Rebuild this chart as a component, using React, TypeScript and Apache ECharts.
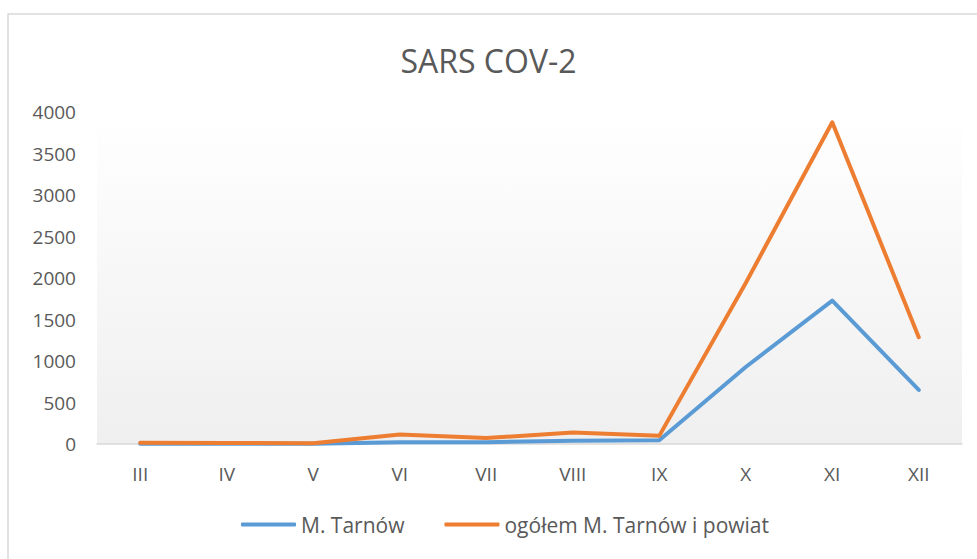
import React, { useEffect, useRef } from "react";
import * as echarts from "echarts";

const categories = ["III", "IV", "V", "VI", "VII", "VIII", "IX", "X", "XI", "XII"];
const tarnow = [4, 3, 2, 20, 22, 40, 45, 928, 1727, 651];
const totalWithPowiat = [15, 12, 10, 115, 72, 138, 98, 1940, 3876, 1286];
const yTicks = [0, 500, 1000, 1500, 2000, 2500, 3000, 3500, 4000];

const FONT = "'Open Sans', sans-serif";

export default function App() {
  const ref = useRef<HTMLDivElement>(null);
  useEffect(() => {
    if (!ref.current) return;
    const chart = echarts.init(ref.current, undefined, { renderer: "svg" });
    chart.setOption({
      animation: false,
      backgroundColor: "#ffffff",
      title: {
        text: "SARS COV-2",
        left: "center",
        top: 39,
        textStyle: { fontFamily: FONT, fontSize: 32, fontWeight: "normal", color: "#595959" },
      },
      graphic: [
        {
          type: "rect",
          shape: { x: 8, y: 14, width: 990, height: 570 },
          style: { fill: "none", stroke: "#d9d9d9", lineWidth: 1.5 },
          silent: true,
          z: -1,
        },
      ],
      legend: {
        bottom: 19,
        left: 236,
        itemWidth: 55,
        itemHeight: 4,
        itemGap: 40,
        icon: "roundRect",
        textStyle: { fontFamily: FONT, fontSize: 21, color: "#595959" },
        data: ["M. Tarnów", "ogółem M. Tarnów i powiat"],
      },
      grid: {
        left: 97,
        right: 15,
        top: 112,
        bottom: 115,
        show: true,
        borderWidth: 0,
        backgroundColor: {
          type: "linear",
          x: 0,
          y: 0,
          x2: 0,
          y2: 1,
          colorStops: [
            { offset: 0, color: "#ffffff" },
            { offset: 1, color: "#efefef" },
          ],
        },
      },
      xAxis: {
        type: "category",
        data: categories,
        boundaryGap: true,
        axisLine: { show: true, lineStyle: { color: "#d9d9d9", width: 1.5 } },
        axisTick: { show: false },
        axisLabel: { fontFamily: FONT, fontSize: 19, color: "#595959", margin: 20 },
      },
      yAxis: {
        type: "value",
        min: yTicks[0],
        max: yTicks[yTicks.length - 1],
        interval: 500,
        splitLine: { show: false },
        axisLine: { show: false },
        axisTick: { show: false },
        axisLabel: {
          fontFamily: FONT,
          fontSize: 19,
          color: "#595959",
          margin: 21,
          formatter: (v: number) => String(v),
        },
      },
      series: [
        {
          name: "M. Tarnów",
          type: "line",
          data: tarnow,
          symbol: "none",
          lineStyle: { color: "#5b9bd5", width: 4, cap: "round", join: "round" },
          itemStyle: { color: "#5b9bd5" },
          z: 2,
        },
        {
          name: "ogółem M. Tarnów i powiat",
          type: "line",
          data: totalWithPowiat,
          symbol: "none",
          lineStyle: { color: "#ed7d31", width: 4, cap: "round", join: "round" },
          itemStyle: { color: "#ed7d31" },
          z: 3,
        },
      ],
    });
    return () => chart.dispose();
  }, []);
  return <div ref={ref} style={{ position: "fixed", left: 0, top: 0, width: 977, height: 559 }} />;
}
